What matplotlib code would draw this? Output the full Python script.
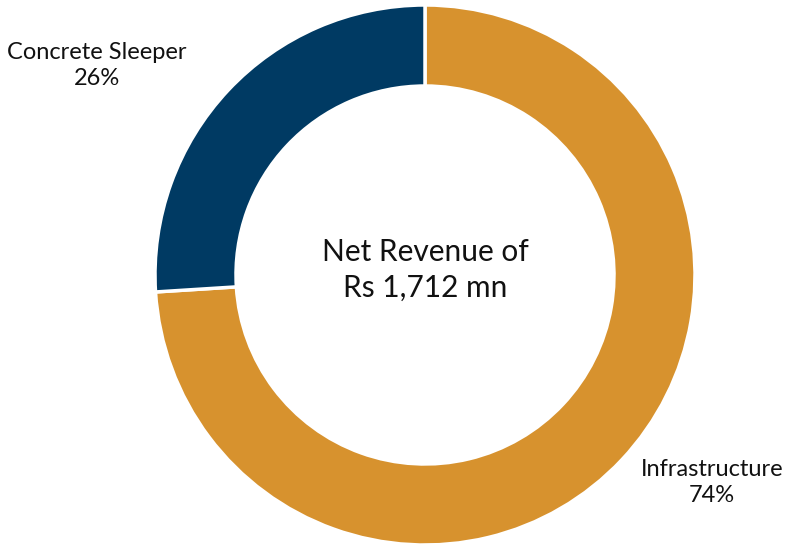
import matplotlib
matplotlib.use("Agg")
import matplotlib.pyplot as plt

categories = ["Infrastructure", "Concrete Sleeper"]
shares = [74, 26]
colors = ["#D7922E", "#003A63"]
center_text = "Net Revenue of\nRs 1,712 mn"

W, H = 786, 544
fig = plt.figure(figsize=(W / 100, H / 100), dpi=100)
cx, cy, r = 425, 275, 270
ax = fig.add_axes([(cx - r) / W, (H - cy - r) / H, 2 * r / W, 2 * r / H])
ax.pie(shares, colors=colors, startangle=90, counterclock=False, radius=1.0,
       wedgeprops=dict(width=0.3, edgecolor="white", linewidth=2.5))
ax.set_xlim(-1, 1)
ax.set_ylim(-1, 1)
ax.set_aspect("equal")
ax.axis("off")

ax.text(0, 0.02, center_text, ha="center", va="center", fontsize=21.5,
        family=["Lato", "DejaVu Sans"], color="#111111", linespacing=1.35)

label_pos = {"Infrastructure": (1.063, -0.77), "Concrete Sleeper": (-1.215, 0.775)}
for cat, val in zip(categories, shares):
    x, y = label_pos[cat]
    ax.text(x, y, f"{cat}\n{val}%", ha="center", va="center", fontsize=17,
            family=["Lato", "DejaVu Sans"], color="#111111", linespacing=1.3,
            clip_on=False)

fig.savefig("out.png", dpi=100)
